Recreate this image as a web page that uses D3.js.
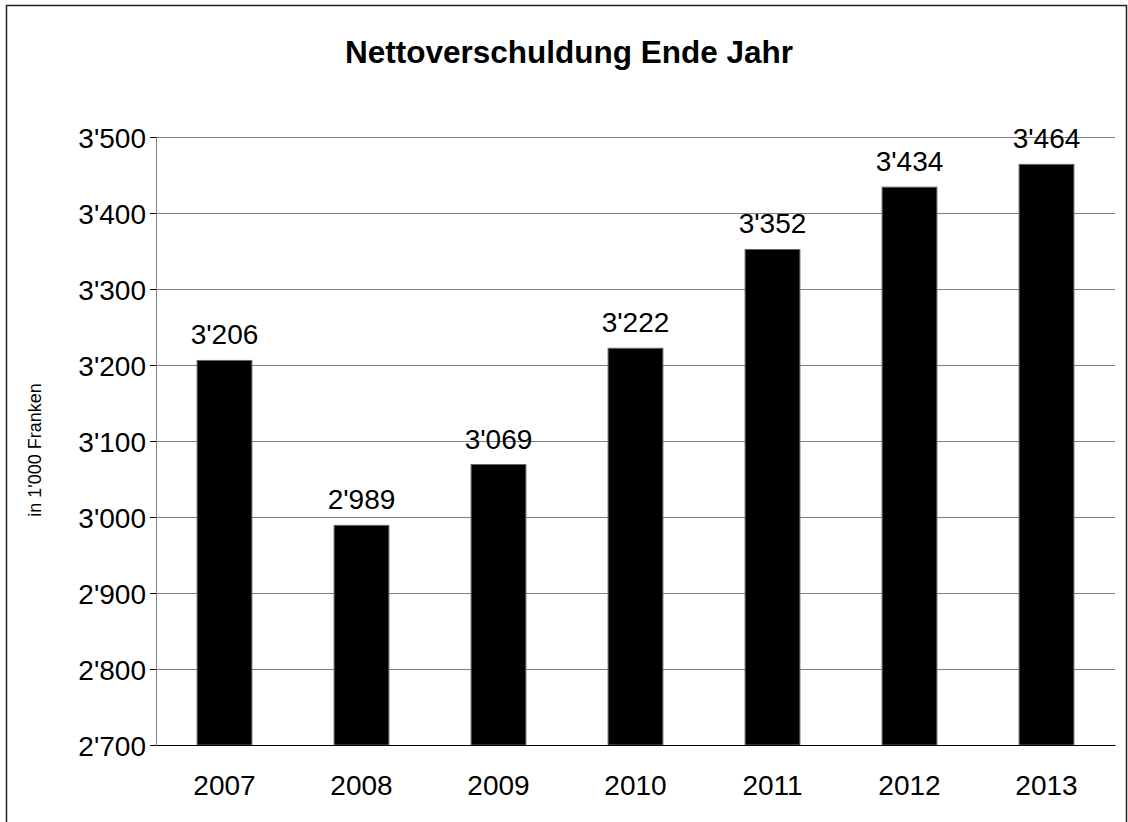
<!DOCTYPE html>
<html>
<head>
  <meta charset="utf-8">
  <title>Nettoverschuldung Ende Jahr</title>
  <style>
    body { margin: 0; background: #fff; font-family: "Liberation Sans", Arial, sans-serif; }
    .axis text { font-size: 28px; fill: #000; }
  </style>
</head>
<body>
  <script src="https://cdn.jsdelivr.net/npm/d3@7"></script>
  <script>
    // data
    var years = ["2007", "2008", "2009", "2010", "2011", "2012", "2013"];
    var values = [3206, 2989, 3069, 3222, 3352, 3434, 3464];
    var yTicks = [2700, 2800, 2900, 3000, 3100, 3200, 3300, 3400, 3500];

    var W = 1128, H = 822;
    var margin = { top: 137, right: 13, bottom: 77, left: 156 },
      width = W - margin.left - margin.right,
      height = H - margin.top - margin.bottom;

    var fmt = function (v) { return d3.format(",")(v).replace(/,/g, "'"); };

    var svg = d3.select("body").append("svg")
      .attr("width", W)
      .attr("height", H);

    // outer frame
    svg.append("rect")
      .attr("x", 6.5).attr("y", 5.5)
      .attr("width", 1120).attr("height", 830)
      .attr("fill", "none")
      .attr("stroke", "#222")
      .attr("stroke-width", 1.5);

    svg.append("text")
      .attr("x", 569)
      .attr("y", 63)
      .attr("text-anchor", "middle")
      .attr("font-size", "31.5px")
      .attr("font-weight", "bold")
      .text("Nettoverschuldung Ende Jahr");

    svg.append("text")
      .attr("transform", "translate(41,450) rotate(-90)")
      .attr("text-anchor", "middle")
      .attr("font-size", "18px")
      .text("in 1'000 Franken");

    var g = svg.append("g")
      .attr("transform", "translate(" + margin.left + "," + margin.top + ")");

    var x = d3.scaleBand()
      .domain(years)
      .range([0, width])
      .paddingInner(0.6)
      .paddingOuter(0.3);

    var y = d3.scaleLinear()
      .domain([2700, 3500])
      .range([height, 0]);

    // gridlines
    g.append("g")
      .selectAll("line")
      .data(yTicks.slice(1))
      .join("line")
      .attr("x1", 0).attr("x2", width)
      .attr("y1", d => Math.round(y(d)) + 0.5)
      .attr("y2", d => Math.round(y(d)) + 0.5)
      .attr("stroke", "#808080");

    // bars
    g.append("g")
      .selectAll("rect")
      .data(values)
      .join("rect")
      .attr("x", (d, i) => x(years[i]))
      .attr("y", d => y(d))
      .attr("width", x.bandwidth())
      .attr("height", d => height - y(d))
      .attr("fill", "#000")
      .attr("stroke", "#666")
      .attr("stroke-width", 1);

    // value labels
    g.append("g")
      .selectAll("text")
      .data(values)
      .join("text")
      .attr("x", (d, i) => x(years[i]) + x.bandwidth() / 2)
      .attr("y", d => y(d) - 16)
      .attr("text-anchor", "middle")
      .attr("font-size", "28px")
      .text(d => fmt(d));

    // y axis
    var yAxis = g.append("g")
      .attr("class", "axis")
      .call(d3.axisLeft(y).tickValues(yTicks).tickFormat(fmt).tickSizeOuter(0).tickSize(6).tickPadding(4));
    yAxis.select(".domain").attr("stroke", "#808080");
    yAxis.selectAll(".tick line").attr("stroke", "#000");
    yAxis.selectAll(".tick text").attr("dy", "0.36em");
    yAxis.attr("font-family", null).attr("font-size", null);

    // x axis
    var xAxis = g.append("g")
      .attr("class", "axis")
      .attr("transform", "translate(0," + height + ")")
      .call(d3.axisBottom(x).tickSize(0).tickPadding(30).tickSizeOuter(0));
    xAxis.select(".domain").attr("stroke", "#000");
    xAxis.attr("font-family", null).attr("font-size", null);
  </script>
</body>
</html>
